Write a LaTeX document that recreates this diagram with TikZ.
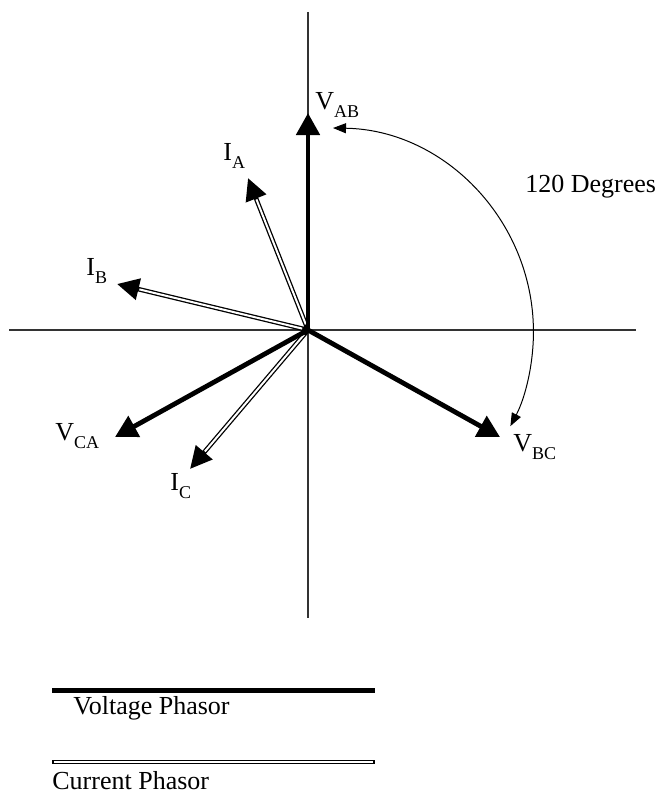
\documentclass[tikz,border=0pt]{standalone}
\usepackage{fontspec}
\setmainfont{Liberation Serif}
\usetikzlibrary{arrows.meta}
\newcommand\phsub[1]{\raisebox{-4pt}{\fontsize{9}{10}\selectfont #1}}

\begin{document}
\begin{tikzpicture}[x=0.5pt,y=-0.5pt,font=\fontsize{13}{15}\selectfont,
 axis/.style={line width=0.6pt,black!80},
 volt/.style={line width=2.4pt,-{Triangle[length=11pt,width=11.5pt]}},
 curline/.style={line width=2.3pt,postaction={draw=white,line width=1pt,-,shorten >=1pt,shorten <=1pt}},
 cur/.style={line width=2.3pt,-{Triangle[length=11pt,width=10.5pt]},
   postaction={draw=white,line width=1pt,-,shorten >=11.5pt,shorten <=3pt}},
 span/.style={line width=0.5pt,{Triangle[length=6.5pt,width=5pt]}-{Triangle[length=6.5pt,width=5pt]}},
 lbl/.style={inner sep=0pt,anchor=base west}]
\useasboundingbox (0,0) rectangle (662,797);

% axes
\coordinate (O) at (308,330);
\coordinate (yT) at (308,12);
\coordinate (yB) at (308,618);
\coordinate (xL) at (9,330);
\coordinate (xR) at (636,330);
\draw[axis] (yT) -- (yB);
\draw[axis] (xL) -- (xR);

% current phasors
\coordinate (IAt) at (248,178);
\coordinate (IBt) at (117,284);
\coordinate (ICt) at (190,469);
\draw[cur] (O) -- (IAt);
\draw[cur] (O) -- (IBt);
\draw[cur] (O) -- (ICt);

% voltage phasors
\coordinate (VABt) at (308,113);
\coordinate (VBCt) at (500,437);
\coordinate (VCAt) at (115,437);
\draw[volt] (O) -- (VABt);
\draw[volt] (O) -- (VBCt);
\draw[volt] (O) -- (VCAt);

\node[lbl] (VAB) at (315,110) {V\phsub{AB}};
\node[lbl] (VBC) at (513,451) {V\phsub{BC}};
\node[lbl] (VCA) at (55,440) {V\phsub{CA}};
\node[lbl] (IA) at (223,160) {I\phsub{A}};
\node[lbl] (IB) at (86,275) {I\phsub{B}};
\node[lbl] (IC) at (170,490) {I\phsub{C}};

% angle between V_AB and V_BC
\coordinate (arcS) at (333,128);
\draw[span] (arcS) arc[start angle=-89,end angle=27.5,radius=204];
\node[lbl] (deg) at (525,192) {120 Degrees};

% legend
\coordinate (vl1) at (52,690);
\coordinate (vl2) at (375,690);
\draw[line width=2.5pt] (vl1) -- (vl2);
\node[lbl] (vtxt) at (73,714) {Voltage Phasor};
\coordinate (cl1) at (52,762);
\coordinate (cl2) at (375,762);
\draw[curline] (cl1) -- (cl2);
\node[lbl] (ctxt) at (52,789) {Current Phasor};
\end{tikzpicture}
\end{document}
